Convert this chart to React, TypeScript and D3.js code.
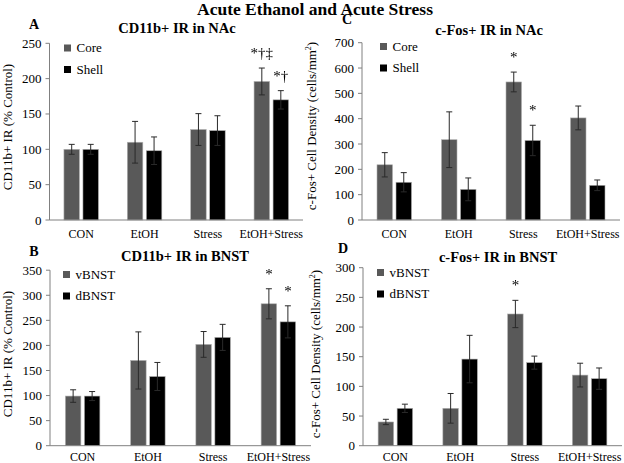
import React from "react";
import * as d3 from "d3";

const categories = ["CON", "EtOH", "Stress", "EtOH+Stress"];

// Panel A: CD11b+ IR in NAc (% Control)
const cd11bNAcCore = [100, 110, 128, 196];
const cd11bNAcCoreErr = [7, 29.5, 22.5, 19];
const cd11bNAcShell = [100, 98, 126.5, 170];
const cd11bNAcShellErr = [7, 19.5, 21, 13];
const cd11bNAcTicks = [0, 50, 100, 150, 200, 250];

// Panel C: c-Fos+ IR in NAc (cells/mm2)
const cfosNAcCore = [218, 317, 545, 403];
const cfosNAcCoreErr = [48, 110, 39, 47];
const cfosNAcShell = [149, 121, 314, 137];
const cfosNAcShellErr = [38, 45, 60, 21];
const cfosNAcTicks = [0, 100, 200, 300, 400, 500, 600, 700];

// Panel B: CD11b+ IR in BNST (% Control)
const cd11bBNSTv = [99, 170, 202, 283];
const cd11bBNSTvErr = [12.5, 57, 25.7, 30];
const cd11bBNSTd = [99, 138, 216, 247];
const cd11bBNSTdErr = [9, 28, 26, 32];
const cd11bBNSTTicks = [0, 50, 100, 150, 200, 250, 300, 350];

// Panel D: c-Fos+ IR in BNST (cells/mm2)
const cfosBNSTv = [40, 63, 222, 119];
const cfosBNSTvErr = [4.5, 25, 23, 20];
const cfosBNSTd = [63, 146, 140, 113];
const cfosBNSTdErr = [7, 40, 11, 18];
const cfosBNSTTicks = [0, 50, 100, 150, 200, 250, 300];

const nacSeries = ["Core", "Shell"];
const bnstSeries = ["vBNST", "dBNST"];

// annotations: [seriesIndex, categoryIndex, text]
const annA: [number, number, string][] = [[0, 3, "*†‡"], [1, 3, "*†"]];
const annC: [number, number, string][] = [[0, 2, "*"], [1, 2, "*"]];
const annB: [number, number, string][] = [[0, 3, "*"], [1, 3, "*"]];
const annD: [number, number, string][] = [[0, 2, "*"]];

const FONT = "'Liberation Serif', 'Times New Roman', serif";
const COLORS = ["#595959", "#000000"];

type PanelProps = {
  letter: string;
  title: string;
  yLabel: React.ReactNode;
  series: string[];
  values: number[][];
  errs: number[][];
  ticks: number[];
  ann: [number, number, string][];
  x0: number;
  x1: number;
  y0: number;
  y1: number;
  letterX: number;
  letterY: number;
  titleX: number;
  titleY: number;
  yLabelX: number;
  yLabelY: number;
  legendX: number;
  legendY: number;
  catY: number;
};

function Panel(p: PanelProps) {
  const max = p.ticks[p.ticks.length - 1];
  const y = d3.scaleLinear().domain([0, max]).range([p.y0, p.y1]);
  const x = d3.scaleBand().domain(categories).range([p.x0, p.x1]);
  const barW = 15.5;
  const gap = 3.5;
  const barX = (si: number, ci: number) => {
    const c = (x(categories[ci]) as number) + x.bandwidth() / 2;
    return si === 0 ? c - gap / 2 - barW : c + gap / 2;
  };
  return (
    <g>
      <text x={p.letterX} y={p.letterY} fontFamily={FONT} fontWeight="bold" fontSize={14} textAnchor="middle">
        {p.letter}
      </text>
      <text x={p.titleX} y={p.titleY} fontFamily={FONT} fontWeight="bold" fontSize={14.5} textAnchor="middle">
        {p.title}
      </text>
      <text
        transform={`translate(${p.yLabelX},${p.yLabelY}) rotate(-90)`}
        fontFamily={FONT}
        fontSize={13}
        textAnchor="middle"
      >
        {p.yLabel}
      </text>
      {p.ticks.map((t) => (
        <g key={t}>
          <line x1={p.x0 - 4} x2={p.x0} y1={y(t)} y2={y(t)} stroke="#808080" strokeWidth={1} />
          <text x={p.x0 - 8} y={y(t) + 4.5} fontFamily={FONT} fontSize={13} textAnchor="end">
            {t}
          </text>
        </g>
      ))}
      {p.values.map((vals, si) =>
        vals.map((v, ci) => {
          const bx = barX(si, ci);
          return (
            <rect
              key={`${si}-${ci}`}
              x={bx}
              y={y(v)}
              width={barW}
              height={p.y0 - y(v)}
              fill={COLORS[si]}
              stroke="#b0b0b0"
              strokeWidth={0.6}
            />
          );
        })
      )}
      {p.values.map((vals, si) =>
        vals.map((v, ci) => {
          const cx = barX(si, ci) + barW / 2;
          const e = p.errs[si][ci];
          return (
            <g key={`e${si}-${ci}`} stroke="#2a2a2a" strokeWidth={1}>
              <line x1={cx} x2={cx} y1={y(v + e)} y2={y(v - e)} />
              <line x1={cx - 3} x2={cx + 3} y1={y(v + e)} y2={y(v + e)} />
              <line x1={cx - 3} x2={cx + 3} y1={y(v - e)} y2={y(v - e)} />
            </g>
          );
        })
      )}
      <g style={{ filter: "grayscale(1)" }}>
        {p.ann.map(([si, ci, txt], i) => {
          const cx = barX(si, ci) + barW / 2;
          const top = y(p.values[si][ci] + p.errs[si][ci]);
          return (
            <text key={i} x={cx} y={top - 10} fontFamily={FONT} fontSize={15} textAnchor="middle" fill="#000">
              {txt}
            </text>
          );
        })}
      </g>
      <line x1={p.x0} x2={p.x0} y1={p.y1} y2={p.y0} stroke="#808080" strokeWidth={1} />
      <line x1={p.x0} x2={p.x1} y1={p.y0} y2={p.y0} stroke="#808080" strokeWidth={1} />
      {categories.map((c) => (
        <text
          key={c}
          x={(x(c) as number) + x.bandwidth() / 2}
          y={p.catY}
          fontFamily={FONT}
          fontSize={12}
          textAnchor="middle"
        >
          {c}
        </text>
      ))}
      {p.series.map((s, si) => (
        <g key={s}>
          <rect x={p.legendX} y={p.legendY + si * 21.5} width={7} height={7} fill={COLORS[si]} />
          <text x={p.legendX + 12.5} y={p.legendY + si * 21.5 + 7.5} fontFamily={FONT} fontSize={13}>
            {s}
          </text>
        </g>
      ))}
    </g>
  );
}

const cfosLabel = (
  <>
    c-Fos+ Cell Density (cells/mm
    <tspan fontSize={8} dy={-5}>
      2
    </tspan>
    <tspan dy={5}>)</tspan>
  </>
);

export default function App() {
  return (
    <svg
      width={624}
      height={463}
      style={{ position: "absolute", left: 0, top: 0, background: "#fff" }}
    >
      <rect width={624} height={463} fill="#fff" />
      <text x={315} y={14.5} fontFamily={FONT} fontWeight="bold" fontSize={17.5} textAnchor="middle">
        Acute Ethanol and Acute Stress
      </text>
      <Panel
        letter="A"
        title="CD11b+ IR in NAc"
        yLabel="CD11b+ IR (% Control)"
        series={nacSeries}
        values={[cd11bNAcCore, cd11bNAcShell]}
        errs={[cd11bNAcCoreErr, cd11bNAcShellErr]}
        ticks={cd11bNAcTicks}
        ann={annA}
        x0={49.5}
        x1={303}
        y0={220}
        y1={43.3}
        letterX={34}
        letterY={29}
        titleX={177}
        titleY={33}
        yLabelX={12}
        yLabelY={127}
        legendX={64}
        legendY={44.5}
        catY={237.5}
      />
      <Panel
        letter="C"
        title="c-Fos+ IR in NAc"
        yLabel={cfosLabel}
        series={nacSeries}
        values={[cfosNAcCore, cfosNAcShell]}
        errs={[cfosNAcCoreErr, cfosNAcShellErr]}
        ticks={cfosNAcTicks}
        ann={annC}
        x0={362}
        x1={620}
        y0={220}
        y1={42.7}
        letterX={347}
        letterY={23.5}
        titleX={489}
        titleY={34.5}
        yLabelX={316}
        yLabelY={126}
        legendX={380}
        legendY={43}
        catY={237.5}
      />
      <Panel
        letter="B"
        title="CD11b+ IR in BNST"
        yLabel="CD11b+ IR (% Control)"
        series={bnstSeries}
        values={[cd11bBNSTv, cd11bBNSTd]}
        errs={[cd11bBNSTvErr, cd11bBNSTdErr]}
        ticks={cd11bBNSTTicks}
        ann={annB}
        x0={50}
        x1={311}
        y0={445.7}
        y1={270.2}
        letterX={34}
        letterY={256}
        titleX={185}
        titleY={261}
        yLabelX={12}
        yLabelY={354}
        legendX={63}
        legendY={271}
        catY={461}
      />
      <Panel
        letter="D"
        title="c-Fos+ IR in BNST"
        yLabel={cfosLabel}
        series={bnstSeries}
        values={[cfosBNSTv, cfosBNSTd]}
        errs={[cfosBNSTvErr, cfosBNSTdErr]}
        ticks={cfosBNSTTicks}
        ann={annD}
        x0={363}
        x1={622}
        y0={445.7}
        y1={267.7}
        letterX={343}
        letterY={253}
        titleX={498}
        titleY={262}
        yLabelX={320}
        yLabelY={354}
        legendX={377}
        legendY={269}
        catY={461}
      />
    </svg>
  );
}
